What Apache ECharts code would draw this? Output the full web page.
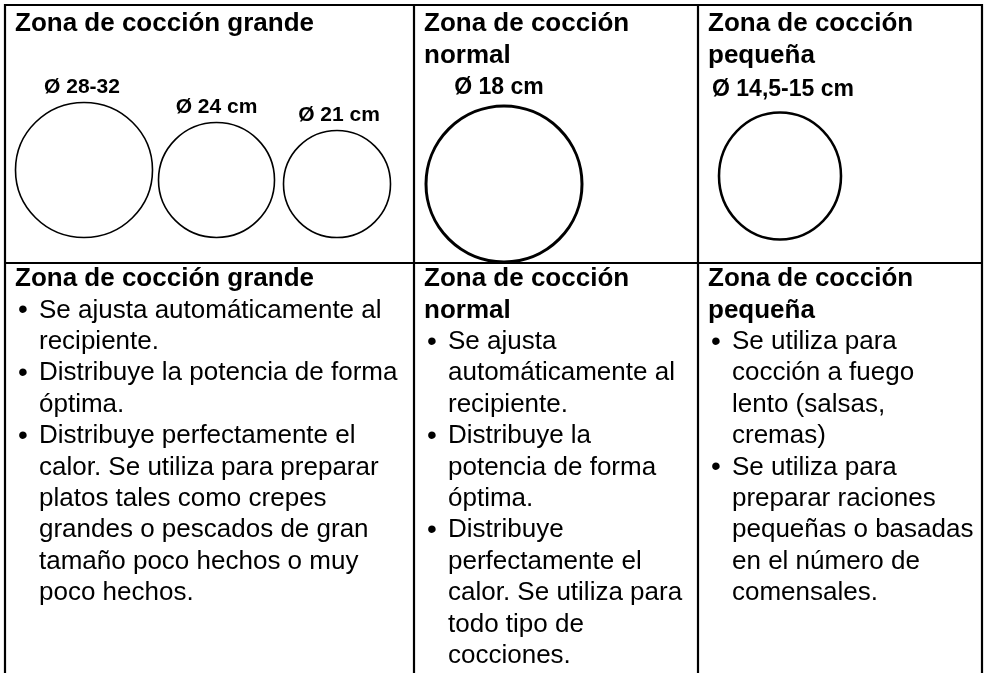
<!DOCTYPE html>
<html>
<head>
<meta charset="utf-8">
<script src="https://cdn.jsdelivr.net/npm/echarts@6/dist/echarts.min.js"></script>
<style>html,body{margin:0;padding:0;background:#fff}#chart{width:986px;height:673px}</style>
</head>
<body>
<div id="chart"></div>
<script>
// ---------- content ----------
const zoneTitles = [["Zona de cocción grande"], ["Zona de cocción", "normal"], ["Zona de cocción", "pequeña"]];
const diameterLabels = ["Ø 28-32", "Ø 24 cm", "Ø 21 cm", "Ø 18 cm", "Ø 14,5-15 cm"];
const circleZone = [0, 0, 0, 1, 2];
const descTitles = [["Zona de cocción grande"], ["Zona de cocción", "normal"], ["Zona de cocción", "pequeña"]];
const bulletsGrande = [
  ["Se ajusta automáticamente al", "recipiente."],
  ["Distribuye la potencia de forma", "óptima."],
  ["Distribuye perfectamente el", "calor. Se utiliza para preparar", "platos tales como crepes", "grandes o pescados de gran", "tamaño poco hechos o muy", "poco hechos."]
];
const bulletsNormal = [
  ["Se ajusta", "automáticamente al", "recipiente."],
  ["Distribuye la", "potencia de forma", "óptima."],
  ["Distribuye", "perfectamente el", "calor. Se utiliza para", "todo tipo de", "cocciones."]
];
const bulletsPequena = [
  ["Se utiliza para", "cocción a fuego", "lento (salsas,", "cremas)"],
  ["Se utiliza para", "preparar raciones", "pequeñas o basadas", "en el número de", "comensales."]
];
const columnBullets = [bulletsGrande, bulletsNormal, bulletsPequena];

// ---------- layout ----------
const W = 986, H = 673;
const colEdges = [5, 414, 698, 982];
const rowEdges = [5, 263];
const circleCX = [84, 216.5, 337, 504, 780];
const circleCY = [170, 180, 184, 184, 176];
const circleW = [137, 116, 107, 156, 122];
const circleH = [135, 115, 107, 156, 127];
const circleStroke = [1.6, 1.6, 1.6, 3, 2.6];
const labelGap = [4, 4, 4, 5, 10];
const labelSize = [21, 21, 21, 23, 23];
const labelShift = [-2, 0, 2, -5, 3];

const FONT = "'Liberation Sans', Arial, Helvetica, sans-serif";

// ---------- build text items ----------
const textItems = [];
function addText(x, y, text, o) { textItems.push(Object.assign({ x: x, y: y, text: text }, o)); }
zoneTitles.forEach((lines, c) => lines.forEach((t, i) =>
  addText(colEdges[c] + 10, 24 + i * 32, t, { bold: true, size: 26, align: 'left' })));
const bottomStart = 279, lineH = 31.4;
descTitles.forEach((lines, c) => {
  let y = bottomStart;
  lines.forEach(t => { addText(colEdges[c] + 10, y, t, { bold: true, size: 26, align: 'left' }); y += lineH; });
  columnBullets[c].forEach(b => {
    b.forEach((t, j) => {
      if (j === 0) addText(colEdges[c] + 18, y, "•", { bold: false, size: 28, align: 'center' });
      addText(colEdges[c] + 34, y, t, { bold: false, size: 26, align: 'left' });
      y += lineH;
    });
  });
});

// table segments
const segments = [];
segments.push([colEdges[0], rowEdges[0], colEdges[3], rowEdges[0]]);
segments.push([colEdges[0], rowEdges[1], colEdges[3], rowEdges[1]]);
colEdges.forEach(x => segments.push([x, rowEdges[0] - 1, x, H + 2]));

const chart = echarts.init(document.getElementById('chart'));
chart.setOption({
  animation: false,
  backgroundColor: '#fff',
  grid: { left: 0, right: 0, top: 0, bottom: 0 },
  xAxis: { type: 'value', min: 0, max: W, show: false },
  yAxis: { type: 'value', min: 0, max: H, inverse: true, show: false },
  series: [
    {
      type: 'custom', clip: false, silent: true,
      data: segments,
      renderItem: function (params, api) {
        const p1 = api.coord([api.value(0), api.value(1)]);
        const p2 = api.coord([api.value(2), api.value(3)]);
        return { type: 'line', shape: { x1: p1[0], y1: p1[1], x2: p2[0], y2: p2[1] },
                 style: { stroke: '#000', lineWidth: 2.2 } };
      }
    },
    {
      type: 'scatter', silent: true,
      data: circleCX.map((x, i) => ({
        value: [x, circleCY[i]],
        symbolSize: [circleW[i], circleH[i]],
        itemStyle: { color: 'rgba(0,0,0,0)', borderColor: '#000', borderWidth: circleStroke[i], opacity: 1 },
        label: { show: true, position: 'top', distance: labelGap[i], offset: [labelShift[i], 0],
                 formatter: diameterLabels[i],
                 fontSize: labelSize[i], fontWeight: 'bold', color: '#000', opacity: 1, fontFamily: FONT }
      }))
    },
    {
      type: 'custom', clip: false, silent: true,
      data: textItems.map(t => [t.x, t.y]),
      renderItem: function (params, api) {
        const t = textItems[params.dataIndex];
        const p = api.coord([api.value(0), api.value(1)]);
        return { type: 'text', x: p[0], y: p[1],
                 style: { text: t.text, fill: '#000', align: t.align, verticalAlign: 'middle',
                          font: (t.bold ? 'bold ' : '') + t.size + 'px ' + FONT } };
      }
    }
  ]
});
</script>
</body>
</html>
